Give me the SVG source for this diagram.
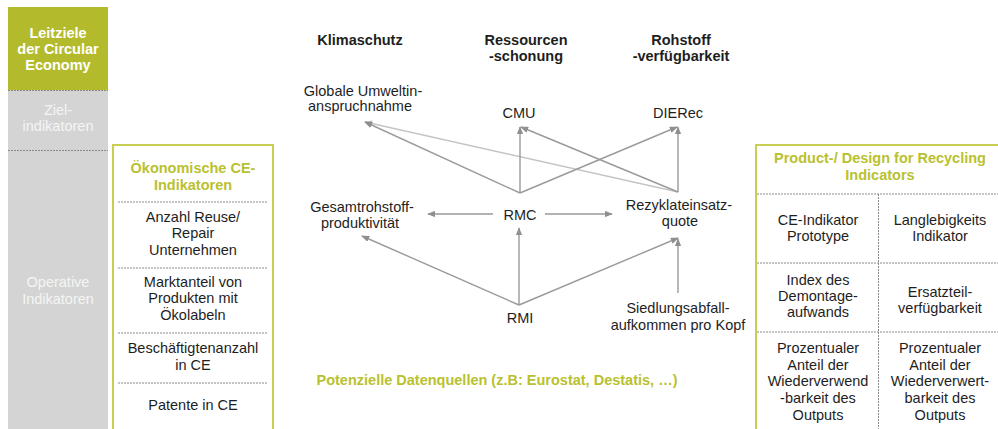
<svg xmlns="http://www.w3.org/2000/svg" width="998" height="429" viewBox="0 0 998 429">
  <style>
    text { font-family: "Liberation Sans", Arial, sans-serif; font-size: 14.5px; fill: #1e1e1e; text-anchor: middle; }
    .b { font-weight: bold; }
    .head { font-weight: bold; fill: #ffffff; font-size: 14.5px; }
    .side { fill: #f4f4f4; }
    .green { font-weight: bold; fill: #b9c12f; }
    .frame { fill: #ffffff; stroke: #c9cd52; stroke-width: 2; }
    .sep { stroke: #8a8a8a; stroke-width: 1; stroke-dasharray: 2 1; fill: none; }
    .cn { stroke: #9a9a9a; stroke-width: 1.4; fill: none; marker-end: url(#ah); }
    .cn.light { stroke: #c4c4c4; marker-end: url(#ahl); }
  </style>
  <defs>
    <marker id="ah" viewBox="0 0 10 8" refX="9" refY="4" markerWidth="8" markerHeight="6.4" markerUnits="userSpaceOnUse" orient="auto">
      <path d="M0,0 L10,4 L0,8 Z" fill="#8f8f8f"/>
    </marker>
    <marker id="ahl" viewBox="0 0 10 8" refX="9" refY="4" markerWidth="8" markerHeight="6.4" markerUnits="userSpaceOnUse" orient="auto">
      <path d="M0,0 L10,4 L0,8 Z" fill="#bdbdbd"/>
    </marker>
  </defs>

  <rect width="998" height="429" fill="#ffffff"/>

  <!-- left level column -->
  <g id="levels">
    <rect x="8" y="90" width="100" height="339" fill="#d4d4d4"/>
    <rect x="8" y="7" width="100" height="83" fill="#b3bb2c"/>
    <line x1="8" y1="90.5" x2="108" y2="90.5" class="sep"/>
    <line x1="8" y1="150.5" x2="108" y2="150.5" class="sep"/>
    <text class="head" x="58" y="38">Leitziele</text>
    <text class="head" x="58" y="54">der Circular</text>
    <text class="head" x="58" y="70">Economy</text>
    <text class="side" x="58" y="115">Ziel-</text>
    <text class="side" x="58" y="131">indikatoren</text>
    <text class="side" x="58" y="287">Operative</text>
    <text class="side" x="58" y="304">Indikatoren</text>
  </g>

  <!-- economic indicators box -->
  <g id="oekonomisch">
    <rect class="frame" x="113" y="145" width="160" height="290"/>
    <text class="green" x="193" y="173">Ökonomische CE-</text>
    <text class="green" x="193" y="190">Indikatoren</text>
    <line class="sep" x1="118" y1="202" x2="268" y2="202"/>
    <text x="193" y="222">Anzahl Reuse/</text>
    <text x="193" y="238">Repair</text>
    <text x="193" y="255">Unternehmen</text>
    <line class="sep" x1="118" y1="268" x2="268" y2="268"/>
    <text x="193" y="287">Marktanteil von</text>
    <text x="193" y="303">Produkten mit</text>
    <text x="193" y="320">Ökolabeln</text>
    <line class="sep" x1="118" y1="333" x2="268" y2="333"/>
    <text x="193" y="353">Beschäftigtenanzahl</text>
    <text x="193" y="370">in CE</text>
    <line class="sep" x1="118" y1="383" x2="268" y2="383"/>
    <text x="193" y="410">Patente in CE</text>
  </g>

  <!-- product / design for recycling box -->
  <g id="design-for-recycling">
    <rect class="frame" x="756" y="145" width="250" height="290"/>
    <text class="green" x="880" y="163">Product-/ Design for Recycling</text>
    <text class="green" x="880" y="180">Indicators</text>
    <line class="sep" x1="757" y1="194" x2="998" y2="194"/>
    <line class="sep" x1="878.5" y1="194" x2="878.5" y2="429"/>
    <line class="sep" x1="757" y1="263" x2="998" y2="263"/>
    <line class="sep" x1="757" y1="332" x2="998" y2="332"/>
    <text x="818" y="225">CE-Indikator</text>
    <text x="818" y="241">Prototype</text>
    <text x="940" y="225">Langlebigkeits</text>
    <text x="940" y="241">Indikator</text>
    <text x="818" y="285">Index des</text>
    <text x="818" y="301">Demontage-</text>
    <text x="818" y="317">aufwands</text>
    <text x="940" y="297">Ersatzteil-</text>
    <text x="940" y="313">verfügbarkeit</text>
    <text x="818" y="353">Prozentualer</text>
    <text x="818" y="370">Anteil der</text>
    <text x="818" y="386">Wiederverwend</text>
    <text x="818" y="403">-barkeit des</text>
    <text x="818" y="420">Outputs</text>
    <text x="940" y="353">Prozentualer</text>
    <text x="940" y="370">Anteil der</text>
    <text x="940" y="386">Wiederverwert-</text>
    <text x="940" y="403">barkeit des</text>
    <text x="940" y="420">Outputs</text>
  </g>

  <!-- goal headings -->
  <g id="klimaschutz"><text class="b" x="360" y="45">Klimaschutz</text></g>
  <g id="ressourcenschonung">
    <text class="b" x="526" y="45">Ressourcen</text>
    <text class="b" x="526" y="61">-schonung</text>
  </g>
  <g id="rohstoffverfuegbarkeit">
    <text class="b" x="681" y="45">Rohstoff</text>
    <text class="b" x="681" y="61">-verfügbarkeit</text>
  </g>

  <!-- indicator nodes -->
  <g id="umweltinanspruchnahme">
    <text x="363" y="96">Globale Umweltin-</text>
    <text x="360" y="111">anspruchnahme</text>
  </g>
  <g id="cmu"><text x="519" y="118">CMU</text></g>
  <g id="dierec"><text x="678" y="118">DIERec</text></g>
  <g id="gesamtrohstoffproduktivitaet">
    <text x="362" y="212">Gesamtrohstoff-</text>
    <text x="360" y="228">produktivität</text>
  </g>
  <g id="rmc"><text x="520" y="220">RMC</text></g>
  <g id="rezyklateinsatzquote">
    <text x="679" y="210">Rezyklateinsatz-</text>
    <text x="680" y="226">quote</text>
  </g>
  <g id="rmi"><text x="520" y="323">RMI</text></g>
  <g id="siedlungsabfall">
    <text x="678" y="313">Siedlungsabfall-</text>
    <text x="678" y="330">aufkommen pro Kopf</text>
  </g>

  <g id="datenquellen">
    <text class="green" x="497" y="385">Potenzielle Datenquellen (z.B: Eurostat, Destatis, …)</text>
  </g>

  <!-- connectors -->
  <g id="connectors">
    <line class="cn light" x1="678" y1="192" x2="365" y2="122"/>
    <line class="cn" x1="520" y1="193" x2="365" y2="122"/>
    <line class="cn" x1="520" y1="193" x2="520" y2="127"/>
    <line class="cn" x1="520" y1="193" x2="677" y2="127"/>
    <line class="cn" x1="678" y1="192" x2="521" y2="127"/>
    <line class="cn" x1="678" y1="192" x2="678" y2="127"/>
    <line class="cn" x1="493" y1="214" x2="428" y2="214"/>
    <line class="cn" x1="545" y1="214" x2="612" y2="214"/>
    <line class="cn" x1="519" y1="305" x2="362" y2="236"/>
    <line class="cn" x1="519" y1="305" x2="519" y2="228"/>
    <line class="cn" x1="519" y1="305" x2="678" y2="238"/>
    <line class="cn" x1="678" y1="293" x2="678" y2="239"/>
  </g>
</svg>
